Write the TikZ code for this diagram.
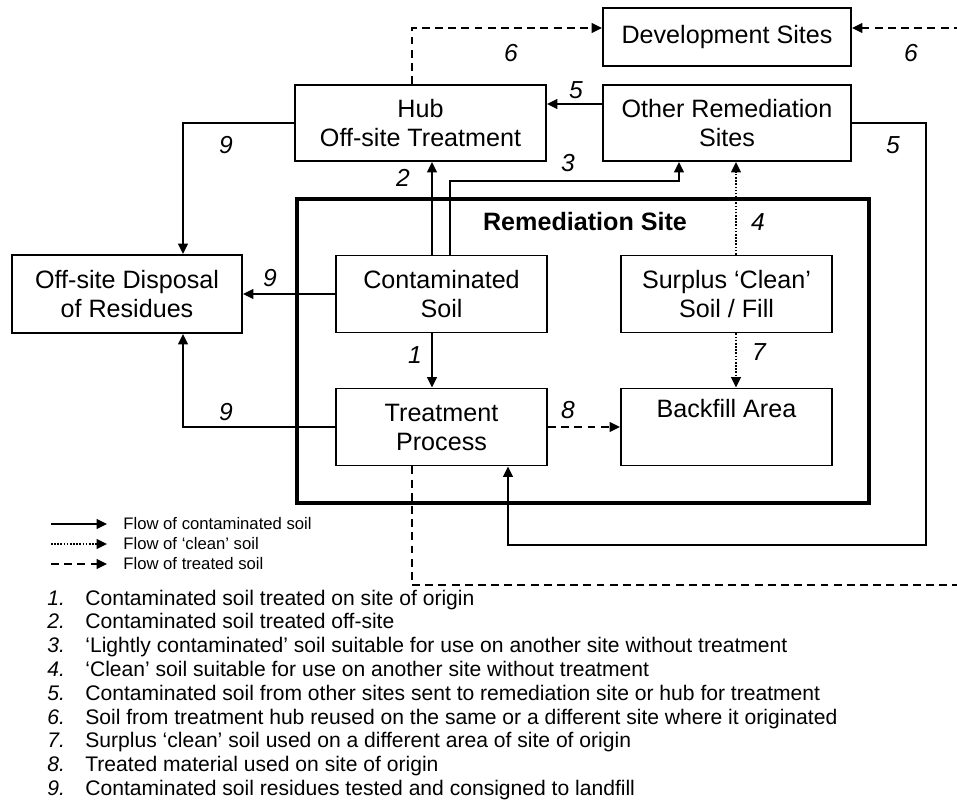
\documentclass[tikz,border=0pt]{standalone}
\usepackage{fontspec}
\setmainfont{Liberation Sans}
\usetikzlibrary{positioning}
\usetikzlibrary{arrows.meta}
\usetikzlibrary{calc}
\newcommand*{\BoxFont}{\fontsize{14.3}{16.5}\selectfont}
\newcommand*{\NumFont}{\fontsize{14}{16}\selectfont\itshape}
\newcommand*{\ListFont}{\fontsize{12}{13}\selectfont}
\newcommand*{\LegFont}{\fontsize{9.5}{11}\selectfont}
\tikzset{
  box/.style 2 args={draw, line width=1.1pt, inner sep=0pt, align=center, font=\BoxFont,
    minimum width=#1*0.02cm, minimum height=#2*0.02cm},
  sitebox/.style={draw, line width=1.8pt, inner sep=0pt,
    minimum width=572*0.02cm, minimum height=304*0.02cm},
  flow/.style={line width=0.9pt, -{Triangle[length=0.21cm, width=0.2cm]}},
  clean/.style={flow, dash pattern=on 0.9pt off 0.9pt},
  treated/.style={flow, dash pattern=on 4.5pt off 3pt},
  lbl/.style={font=\NumFont, inner sep=0pt},
  legtext/.style={font=\LegFont, inner sep=0pt, anchor=west},
  note/.style={font=\ListFont, inner sep=0pt, anchor=base west},
}
\begin{document}
\begin{tikzpicture}[x=0.02cm, y=-0.02cm]
\useasboundingbox (0,0) rectangle (957,804);

% Remediation site frame
\node[sitebox] (site) at (583,351) {};
\node[font=\BoxFont\bfseries, inner sep=0pt] (sitename) at ($(site.north)+(2,24)$) {Remediation Site};

% Boxes
\node[box={248}{58}] (dev) at (727,37) {Development Sites};
\node[box={251}{76}] (hub) at (420.5,123) {Hub\\Off-site Treatment};
\node[box={248}{76}] (other) at (727,123) {Other Remediation\\Sites};
\node[box={230}{78}] (disposal) at (127,294) {Off-site Disposal\\of Residues};
\node[box={211}{77}] (contam) at (441.5,294) {Contaminated\\Soil};
\node[box={211}{77}] (surplus) at (726.5,294) {Surplus ‘Clean’\\Soil / Fill};
\node[box={211}{77}] (treat) at (441.5,427) {Treatment\\Process};
\node[box={211}{77}] (backfill) at (726.5,427) {Backfill Area\\\strut};

% Helper points on box edges
\coordinate (c2) at ($(contam.north)+(-9.5,0)$);
\coordinate (c3) at ($(contam.north)+(8.5,0)$);
\coordinate (o3) at ($(other.south)+(-48,0)$);
\coordinate (c4) at ($(surplus.north)+(9.5,0)$);
\coordinate (c7) at ($(surplus.south)+(9.5,0)$);
\coordinate (c1) at ($(contam.south)+(-9.5,0)$);

% Flows of contaminated soil
\draw[flow] (c1) -- (c1 |- treat.north);
\draw[flow] (c2) -- (c2 |- hub.south);
\draw[flow] (c3) |- ($(o3)+(0,19)$) -- (o3);
\draw[flow] ($(other.west)+(0,-19)$) -- ($(hub.east)+(0,-19)$);
\draw[flow] (other.east) -| (926,545) -| ($(treat.south)+(66.5,0)$);
\draw[flow] (hub.west) -| ($(disposal.north)+(56,0)$);
\draw[flow] (contam.west) -- (disposal.east);
\draw[flow] (treat.west) -| ($(disposal.south)+(56,0)$);

% Flows of clean soil
\draw[clean] (c4) -- (c4 |- other.south);
\draw[clean] (c7) -- (c7 |- backfill.north);

% Flows of treated soil
\draw[treated] (treat.east) -- (backfill.west);
\draw[treated] ($(hub.north)+(-8.5,0)$) |- ($(dev.west)+(0,-9)$);
\draw[treated] ($(treat.south)+(-29.5,0)$) |- (975,585) |- ($(dev.east)+(0,-9)$);

% Flow numbers
\node[lbl] (n1) at (415,355) {1};
\node[lbl] (n2) at (403,178) {2};
\node[lbl] (n3) at (568,163) {3};
\node[lbl] (n4) at (758,222) {4};
\node[lbl] (n5a) at (576,90) {5};
\node[lbl] (n5b) at (893,145) {5};
\node[lbl] (n6a) at (511,53) {6};
\node[lbl] (n6b) at (911,53) {6};
\node[lbl] (n7) at (759,352) {7};
\node[lbl] (n8) at (568,410) {8};
\node[lbl] (n9a) at (226,145) {9};
\node[lbl] (n9b) at (270,278) {9};
\node[lbl] (n9c) at (226,412) {9};

% Legend
\node[legtext] (legA) at (123,524) {Flow of contaminated soil};
\node[legtext] (legB) at (123,544) {Flow of ‘clean’ soil};
\node[legtext] (legC) at (123,564) {Flow of treated soil};
\draw[flow] ($(legA.west)+(-72,0)$) -- ($(legA.west)+(-16,0)$);
\draw[clean] ($(legB.west)+(-72,0)$) -- ($(legB.west)+(-16,0)$);
\draw[treated] ($(legC.west)+(-72,0)$) -- ($(legC.west)+(-16,0)$);

% Numbered notes
\foreach \i/\txt [count=\k from 0] in {
  1/Contaminated soil treated on site of origin,
  2/Contaminated soil treated off-site,
  3/‘Lightly contaminated’ soil suitable for use on another site without treatment,
  4/‘Clean’ soil suitable for use on another site without treatment,
  5/Contaminated soil from other sites sent to remediation site or hub for treatment,
  6/Soil from treatment hub reused on the same or a different site where it originated,
  7/Surplus ‘clean’ soil used on a different area of site of origin,
  8/Treated material used on site of origin,
  9/Contaminated soil residues tested and consigned to landfill}{
  \node[note, font=\ListFont\itshape] (num\i) at (47,605+23.8*\k) {\i.};
  \node[note] (note\i) at (85,605+23.8*\k) {\txt};
}
\end{tikzpicture}
\end{document}
